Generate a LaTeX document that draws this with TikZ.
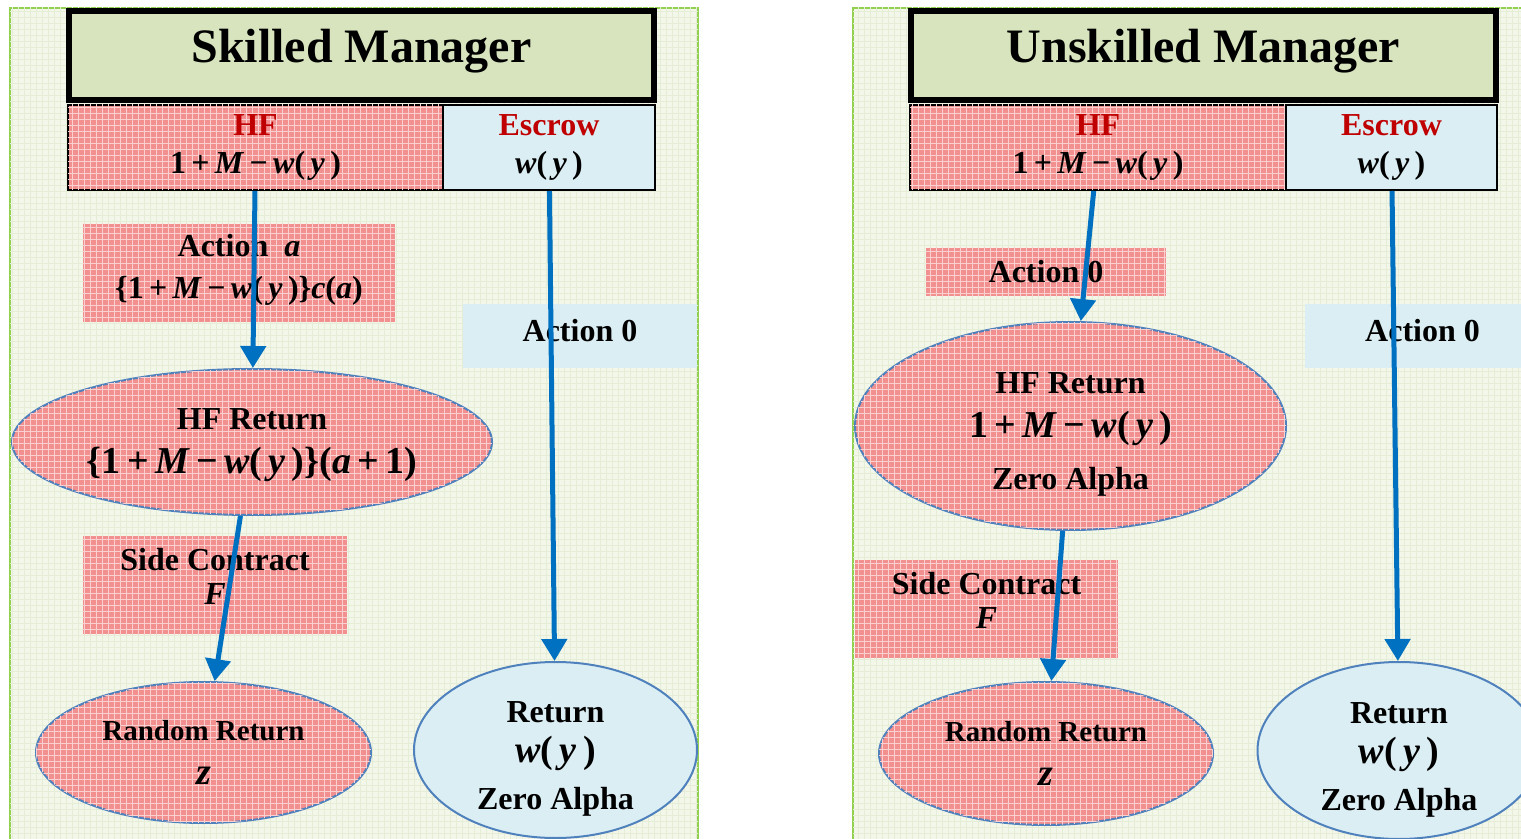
\documentclass[tikz,border=0pt]{standalone}
\usepackage{fontspec}
\setmainfont{Liberation Serif}
\usetikzlibrary{shapes.geometric,arrows.meta,patterns}

\definecolor{panelgreen}{HTML}{F3F7EA}
\definecolor{panelgrid}{HTML}{E6EDD6}
\definecolor{panelline}{HTML}{92D050}
\definecolor{titlefill}{HTML}{D7E4BD}
\definecolor{hfpink}{HTML}{F29090}
\definecolor{hfgrid}{HTML}{FBD0D0}
\definecolor{escblue}{HTML}{DBEEF4}
\definecolor{hfred}{HTML}{C00000}
\definecolor{ovalline}{HTML}{4F81BD}
\definecolor{arrowblue}{HTML}{0070C0}

\newcommand{\mv}[1]{\textbf{\textit{#1}}}
\newcommand{\hfsum}{1\,+\,\mv{M}\,−\,\mv{w}(\,\mv{y}\,)}
\newcommand{\bigsize}{\fontsize{19pt}{23pt}\selectfont}

\tikzset{
  panel/.style={draw=panelline, line width=1pt, fill=panelgreen,
    postaction={pattern=grid, pattern color=panelgrid}},
  titlebox/.style={draw=black, line width=3pt, fill=titlefill,
    font=\fontsize{24pt}{28pt}\selectfont\bfseries, text depth=9.5pt},
  pinkfill/.style={fill=hfpink, postaction={pattern=grid, pattern color=hfgrid}},
  hfbox/.style={pinkfill, draw=black, line width=1pt, align=center},
  escbox/.style={fill=escblue, draw=black, line width=1pt, align=center},
  pinklabel/.style={pinkfill, align=center},
  bluelabel/.style={fill=escblue, align=center},
  pinkoval/.style={ellipse, pinkfill, draw=ovalline, line width=1pt, inner sep=0pt, align=center},
  blueoval/.style={ellipse, fill=escblue, draw=ovalline, line width=1pt, inner sep=0pt, align=center},
  flow/.style={draw=arrowblue, line width=2.5pt, -{Triangle[length=11pt,width=12.5pt]}}
}

\begin{document}
\begin{tikzpicture}[x=0.5pt, y=-0.5pt,
    every node/.style={font=\fontsize{16pt}{19pt}\selectfont\bfseries}]
  \useasboundingbox (0,0) rectangle (1521,839);

  % skilled manager
  \draw[panel] (10,8) rectangle (698,860);
  \node[titlebox, minimum width=292.5pt, minimum height=44.5pt] (stitle) at (361.5,55.5) {Skilled Manager};
  \node[hfbox, minimum width=187.5pt, minimum height=42.5pt] (shf) at (255.5,147.5)
    {\textcolor{hfred}{HF}\\ \hfsum};
  \node[escbox, minimum width=106pt, minimum height=42.5pt] (sesc) at (549,147.5)
    {\textcolor{hfred}{Escrow}\\ \mv{w}(\,\mv{y}\,)};
  \node[pinklabel, minimum width=156pt, minimum height=49pt, text depth=7pt] (sact) at (239,273)
    {Action\ \ \mv{a}\\[2pt] \{\hfsum\}\mv{c}(\mv{a})};
  \node[bluelabel, minimum width=117pt, minimum height=32pt, text depth=6pt] (sact0) at (580,336) {Action 0};
  \node[pinkoval, minimum width=240pt, minimum height=73pt] (shfret) at (252,442)
    {\rule{0pt}{14pt}HF Return\\[3pt] {\bigsize\{\hfsum\}(\mv{a}\,+\,1)}};
  \node[pinklabel, minimum width=132pt, minimum height=49pt, text depth=9pt] (sside) at (215,585)
    {Side Contract\\[-2pt] \mv{F}};
  \node[pinkoval, minimum width=167.5pt, minimum height=70.5pt, font=\fontsize{14.5pt}{18pt}\selectfont\bfseries] (srand) at (203.5,752.5)
    {Random Return\\[4pt] {\bigsize\mv{z}}};
  \node[blueoval, minimum width=141.5pt, minimum height=88pt, text depth=0pt] (sret) at (555.5,750)
    {\rule{0pt}{16pt}Return\\[1pt] {\bigsize\mv{w}(\,\mv{y}\,)}\\[4.5pt] Zero Alpha};
  \draw[flow] (shf) -- (shfret);
  \draw[flow] (shfret) -- (srand);
  \draw[flow] (sesc) -- (sret);

  % unskilled manager
  \draw[panel] (853,8) rectangle (1540,860);
  \node[titlebox, minimum width=292.5pt, minimum height=44.5pt] (utitle) at (1203.5,55.5) {Unskilled Manager};
  \node[hfbox, minimum width=188pt, minimum height=42.5pt] (uhf) at (1098,147.5)
    {\textcolor{hfred}{HF}\\ \hfsum};
  \node[escbox, minimum width=105.5pt, minimum height=42.5pt] (uesc) at (1391.5,147.5)
    {\textcolor{hfred}{Escrow}\\ \mv{w}(\,\mv{y}\,)};
  \node[pinklabel, minimum width=120pt, minimum height=24pt] (uact) at (1046,272) {Action 0};
  \node[bluelabel, minimum width=117.5pt, minimum height=32pt, text depth=6pt] (uact0) at (1422.5,336) {Action 0};
  \node[pinkoval, minimum width=215.5pt, minimum height=104pt] (uhfret) at (1070.5,426)
    {\rule{0pt}{19pt}HF Return\\[3pt] {\bigsize\hfsum}\\[7pt] Zero Alpha};
  \node[pinklabel, minimum width=131.5pt, minimum height=49pt, text depth=9pt] (uside) at (986.5,609)
    {Side Contract\\[-2pt] \mv{F}};
  \node[pinkoval, minimum width=167pt, minimum height=71.5pt, font=\fontsize{14.5pt}{18pt}\selectfont\bfseries] (urand) at (1046,753.5)
    {Random Return\\[4pt] {\bigsize\mv{z}}};
  \node[blueoval, minimum width=141.5pt, minimum height=88.5pt, text depth=0pt] (uret) at (1399,750.5)
    {\rule{0pt}{16pt}Return\\[1pt] {\bigsize\mv{w}(\,\mv{y}\,)}\\[4.5pt] Zero Alpha};
  \draw[flow] (uhf) -- (uhfret);
  \draw[flow] (uhfret) -- (urand);
  \draw[flow] (uesc) -- (uret);
\end{tikzpicture}
\end{document}
